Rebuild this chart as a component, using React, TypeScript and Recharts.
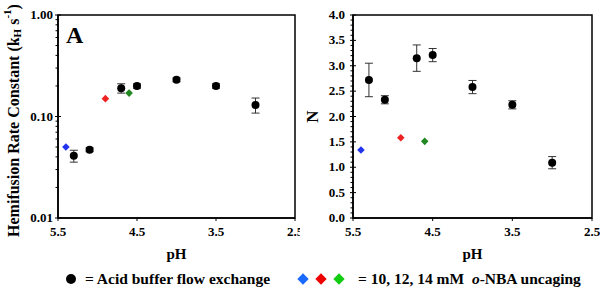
import React from "react";
import {
  ScatterChart, Scatter, XAxis, YAxis, ErrorBar, ReferenceArea, Customized,
} from "recharts";

const FONT = '"Liberation Serif", "Times New Roman", serif';

// pH axis
const phTicks = [5.5, 4.5, 3.5, 2.5];

// acid buffer flow exchange (black circles)
const phBuffer = [5.3, 5.1, 4.7, 4.5, 4.0, 3.5, 3.0];
const kBuffer = [0.041, 0.047, 0.19, 0.2, 0.23, 0.2, 0.13];
const kBufferErr = [0.0055, 0.002, 0.02, 0.01, 0.01, 0.01, 0.022];
const nBuffer = [2.72, 2.33, 3.15, 3.21, 2.58, 2.23, 1.09];
const nBufferErr = [0.33, 0.08, 0.26, 0.13, 0.13, 0.08, 0.12];

// o-NBA uncaging, 10 / 12 / 14 mM
const phUncage = [5.4, 4.9, 4.6];
const kUncage = [0.05, 0.15, 0.17];
const nUncage = [1.34, 1.58, 1.51];
const uncageColors = ["#2233ee", "#ee2222", "#228822"];
const legendColors = ["#1a6aff", "#ee0000", "#11cc11"];

// y ticks
const kMajor = [0.01, 0.1, 1];
const kMinor = [0.02, 0.03, 0.04, 0.05, 0.06, 0.07, 0.08, 0.09, 0.2, 0.3, 0.4, 0.5, 0.6, 0.7, 0.8, 0.9];
const nMajor = [0, 0.5, 1, 1.5, 2, 2.5, 3, 3.5, 4];
const nMinor = Array.from({ length: 41 }, (_, i) => i / 10).filter(
  (v) => !nMajor.some((m) => Math.abs(m - v) < 1e-9)
);

const bufferK = phBuffer.map((x, i) => ({ x, y: kBuffer[i], err: kBufferErr[i] }));
const bufferN = phBuffer.map((x, i) => ({ x, y: nBuffer[i], err: nBufferErr[i] }));

function makeYTick(majors: number[], digits: number, offset: number) {
  return (props: any) => {
    const { x, y, payload } = props;
    const v = payload.value;
    const isMajor = majors.some((m) => Math.abs(m - v) < 1e-9);
    const ax = x + offset;
    return (
      <g>
        <line
          x1={ax - (isMajor ? 3 : 2.5)}
          x2={ax + (isMajor ? 3 : 1)}
          y1={y}
          y2={y}
          stroke="#000"
          strokeWidth={1}
        />
        {isMajor && (
          <text x={x} y={y} dy={4} textAnchor="end" fontFamily={FONT} fontWeight="bold" fontSize={13} fill="#000">
            {v.toFixed(digits)}
          </text>
        )}
      </g>
    );
  };
}

const tickA = makeYTick(kMajor, 2, 5);
const tickB = makeYTick(nMajor, 1, 8);

const XTick = (props: any) => {
  const { x, y, payload } = props;
  return (
    <text x={x} y={y} dy={11} textAnchor="middle" fontFamily={FONT} fontWeight="bold" fontSize={13} fill="#000">
      {payload.value.toFixed(1)}
    </text>
  );
};

const Dot = (props: any) => <circle cx={props.cx} cy={props.cy} r={4} fill="#000" />;

const diamond = (color: string) => (props: any) => {
  const { cx, cy } = props;
  const r = 3.8;
  return <path d={`M${cx},${cy - r}L${cx + r},${cy}L${cx},${cy + r}L${cx - r},${cy}Z`} fill={color} />;
};

const YTitleA = (props: any) => {
  const vb = props.viewBox || { x: 0, y: 15, width: 58, height: 203 };
  const cx = vb.x + 13;
  const cy = vb.y + vb.height / 2 + 4;
  return (
    <text
      x={cx}
      y={cy}
      transform={`rotate(-90 ${cx} ${cy})`}
      textAnchor="middle"
      dominantBaseline="central"
      fontFamily={FONT}
      fontWeight="bold"
      fontSize={16}
      fill="#000"
    >
      Hemifusion Rate Constant (k
      <tspan dy={4} fontSize={11}>H</tspan>
      <tspan dy={-4}> s</tspan>
      <tspan dy={-6} fontSize={11}>-1</tspan>
      <tspan dy={6}>)</tspan>
    </text>
  );
};

const YTitleB = (props: any) => {
  const vb = props.viewBox || { x: 0, y: 15, width: 53, height: 204 };
  const cx = vb.x + 12;
  const cy = vb.y + vb.height / 2;
  return (
    <text
      x={cx}
      y={cy}
      transform={`rotate(-90 ${cx} ${cy})`}
      textAnchor="middle"
      dominantBaseline="central"
      fontFamily={FONT}
      fontWeight="bold"
      fontSize={17}
      fill="#000"
    >
      N
    </text>
  );
};

const PanelLetter = (letter: string, x: number) => () => (
  <text x={x} y={43} fontFamily={FONT} fontWeight="bold" fontSize={24} fill="#000">
    {letter}
  </text>
);

function Panel({
  buffer, uncage, log, yWidth, rightMargin, letter, letterX,
}: {
  buffer: { x: number; y: number; err: number }[];
  uncage: number[];
  log: boolean;
  yWidth: number;
  rightMargin: number;
  letter: string;
  letterX: number;
}) {
  const yDomain: [number, number] = log ? [0.01, 1] : [0, 4];
  return (
    <ScatterChart width={300} height={262} margin={{ top: 15, right: rightMargin, bottom: 0, left: 0 }}>
      <XAxis
        type="number"
        dataKey="x"
        domain={[2.5, 5.5]}
        reversed
        ticks={phTicks}
        interval={0}
        allowDataOverflow
        axisLine={{ stroke: "#000", strokeWidth: 1.5 }}
        tickLine={{ stroke: "#000" }}
        tickSize={3}
        tickMargin={4}
        tick={<XTick />}
        height={44}
        label={{
          value: "pH",
          position: "insideBottom",
          offset: 3,
          style: { fontFamily: FONT, fontWeight: "bold", fontSize: 15, fill: "#000" },
        }}
      />
      <YAxis
        type="number"
        dataKey="y"
        scale={log ? "log" : "linear"}
        domain={yDomain}
        allowDataOverflow
        ticks={log ? [...kMajor, ...kMinor].sort((a, b) => a - b) : [...nMajor, ...nMinor].sort((a, b) => a - b)}
        interval={0}
        width={yWidth}
        axisLine={{ stroke: "#000", strokeWidth: 1.5 }}
        tickLine={false}
        tickSize={2}
        tickMargin={log ? 3 : 6}
        tick={log ? tickA : tickB}
        label={log ? <YTitleA /> : <YTitleB />}
      />
      <ReferenceArea
        x1={2.5}
        x2={5.5}
        y1={yDomain[0]}
        y2={yDomain[1]}
        fill="none"
        fillOpacity={0}
        stroke="#000"
        strokeWidth={1.5}
        ifOverflow="visible"
      />
      <Scatter data={buffer} shape={Dot} isAnimationActive={false}>
        <ErrorBar dataKey="err" direction="y" width={4} stroke="#333" strokeWidth={1} />
      </Scatter>
      {phUncage.map((x, i) => (
        <Scatter
          key={i}
          data={[{ x, y: uncage[i] }]}
          shape={diamond(uncageColors[i])}
          isAnimationActive={false}
        />
      ))}
      <Customized component={PanelLetter(letter, letterX)} />
    </ScatterChart>
  );
}

const legendText: React.CSSProperties = {
  fontFamily: FONT,
  fontWeight: "bold",
  fontSize: 15.5,
  color: "#000",
  whiteSpace: "pre",
};

const Diamond = ({ color }: { color: string }) => (
  <span
    style={{
      display: "inline-block",
      width: 8,
      height: 8,
      background: color,
      transform: "rotate(45deg)",
      margin: "0 5px",
    }}
  />
);

export default function App() {
  return (
    <div style={{ position: "absolute", left: 0, top: 0, width: 600, height: 288, background: "#fff", overflow: "hidden" }}>
      <div style={{ position: "absolute", left: 0, top: 0 }}>
        <Panel buffer={bufferK} uncage={kUncage} log yWidth={58} rightMargin={5} letter="A" letterX={66} />
      </div>
      <div style={{ position: "absolute", left: 300, top: 0 }}>
        <Panel buffer={bufferN} uncage={nUncage} log={false} yWidth={53} rightMargin={8} letter="B" letterX={361} />
      </div>
      <div style={{ position: "absolute", left: 66, top: 270, display: "flex", alignItems: "center", ...legendText }}>
        <span style={{ display: "inline-block", width: 10, height: 10, borderRadius: "50%", background: "#000", marginRight: 9 }} />
        <span>= Acid buffer flow exchange</span>
      </div>
      <div style={{ position: "absolute", left: 294, top: 270, display: "flex", alignItems: "center", ...legendText }}>
        {legendColors.map((c, i) => (
          <Diamond key={i} color={c} />
        ))}
        <span style={{ marginLeft: 10 }}>
          = 10, 12, 14 mM  <i>o</i>-NBA uncaging
        </span>
      </div>
    </div>
  );
}
